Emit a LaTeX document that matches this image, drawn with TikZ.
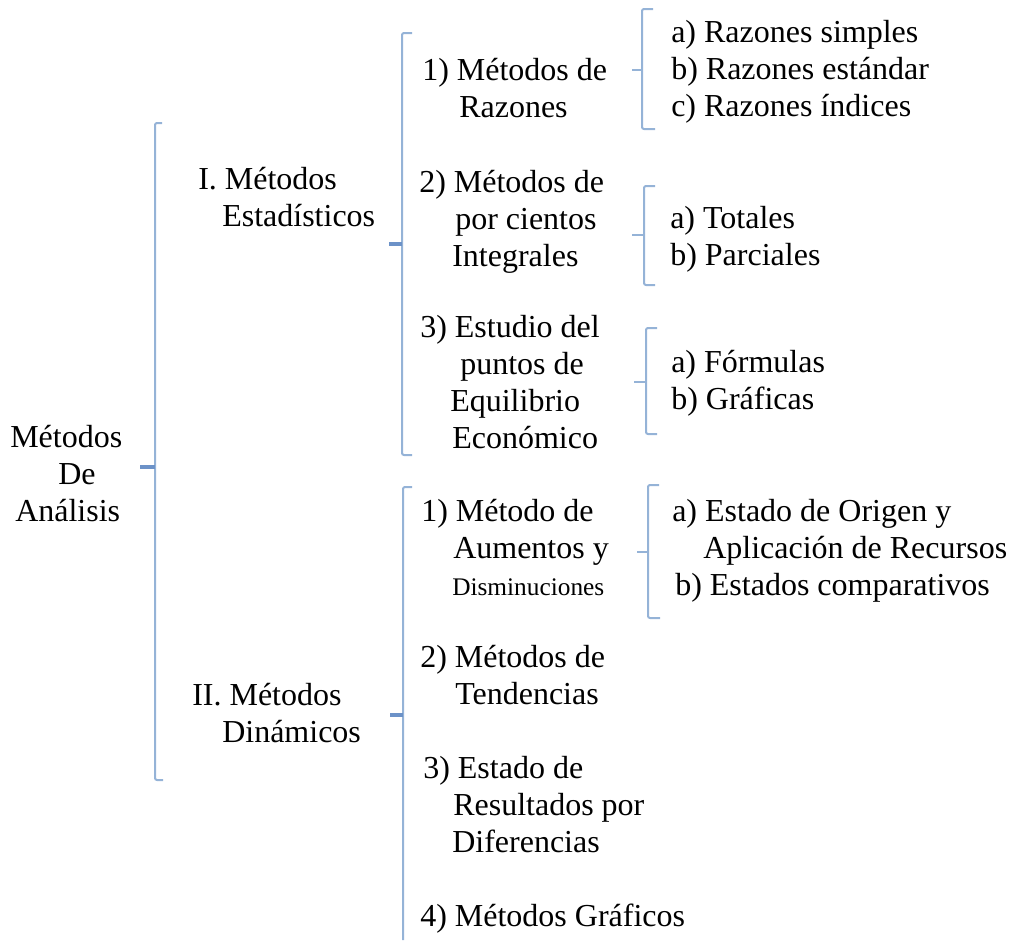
\documentclass[tikz,border=0pt]{standalone}
\usepackage{fontspec}
\setmainfont{Liberation Serif}
\definecolor{brkblue}{RGB}{149,179,215}
\definecolor{brkdark}{RGB}{108,146,200}

\begin{document}
\begin{tikzpicture}[x=0.75pt,y=-0.75pt,
  txt/.style={anchor=base west,inner sep=0pt,align=left,
    font=\fontsize{24}{27.75}\selectfont},
  brk/.style={draw=brkblue,line width=1.5pt,rounded corners=1.5pt},
  tick/.style={draw=brkblue,line width=1pt},
  bigtick/.style={draw=brkdark,line width=2.5pt}
]
  \useasboundingbox (0,0) rectangle (1010,940);
  % Root (nodes sit on the baseline of their last line)
  \node[txt] (root) at (10,521) {Métodos\\\hspace*{36pt}De\\\hspace*{3.75pt}Análisis};
  \draw[brk] (162,123) -- (155,123) -- (155,780) -- (163,780);
  \draw[bigtick] (155,467) -- (140,467);
  % Level 1
  \node[txt] (est) at (198,226) {I. Métodos\\\hspace*{18pt}Estadísticos};
  \node[txt] (din) at (192,742) {II. Métodos\\\hspace*{22.5pt}Dinámicos};
  \draw[brk] (412,33) -- (402,33) -- (402,455) -- (412,455);
  \draw[bigtick] (402,244) -- (389,244);
  \draw[brk] (412,487) -- (403,487) -- (403,940);
  \draw[bigtick] (403,715) -- (390,715);
  % Level 2, estadisticos
  \node[txt] (raz) at (422,117) {1) Métodos de\\\hspace*{27.75pt}Razones};
  \node[txt] (por) at (419,266) {2) Métodos de\\\hspace*{27pt}por cientos\\\hspace*{24.75pt}Integrales};
  \node[txt] (equ) at (420,448) {3) Estudio del\\\hspace*{30pt}puntos de\\\hspace*{22.5pt}Equilibrio\\\hspace*{24pt}Económico};
  % Level 2, dinamicos
  \node[txt] (aum) at (421,595) {1) Método de\\\hspace*{24pt}Aumentos y\\\hspace*{23.25pt}{\fontsize{19}{22}\selectfont Disminuciones}};
  \node[txt] (ten) at (420,704) {2) Métodos de\\\hspace*{26.25pt}Tendencias};
  \node[txt] (res) at (423,852) {3) Estado de\\\hspace*{22.5pt}Resultados por\\\hspace*{21.75pt}Diferencias};
  \node[txt] (gra) at (420,926) {4) Métodos Gráficos};
  % Level 3
  \node[txt] (simp) at (671,116) {a) Razones simples\\b) Razones estándar\\c) Razones índices};
  \draw[brk] (653,9) -- (642,9) -- (642,129) -- (655,129);
  \draw[tick] (642,70) -- (632,70);
  \node[txt] (tot) at (670,265) {a) Totales\\b) Parciales};
  \draw[brk] (655,186) -- (644,186) -- (644,285) -- (655,285);
  \draw[tick] (644,235) -- (632,235);
  \node[txt] (form) at (671,409) {a) Fórmulas\\b) Gráficas};
  \draw[brk] (657,328) -- (646,328) -- (646,434) -- (657,434);
  \draw[tick] (646,382) -- (634,382);
  \node[txt] (ori) at (672,595) {a) Estado de Origen y\\\hspace*{23.25pt}Aplicación de Recursos\\\hspace*{2.25pt}b) Estados comparativos};
  \draw[brk] (659,485) -- (648,485) -- (648,618) -- (660,618);
  \draw[tick] (648,552) -- (637,552);
\end{tikzpicture}
\end{document}
